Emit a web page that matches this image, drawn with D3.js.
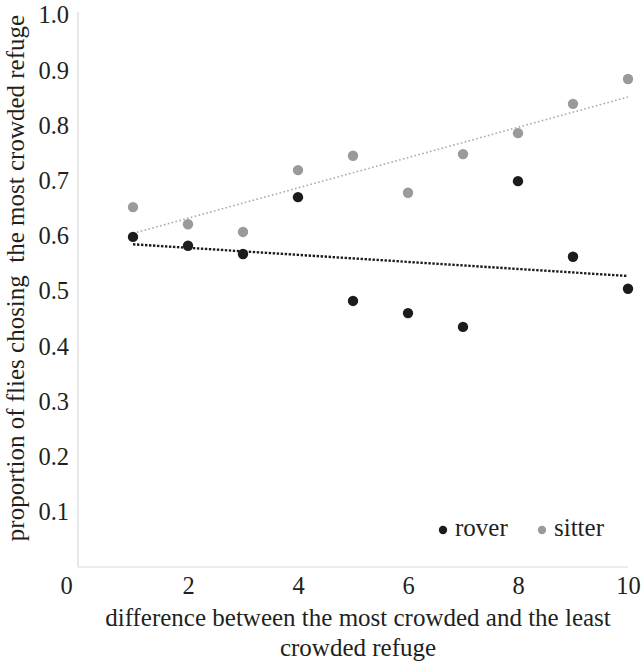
<!DOCTYPE html>
<html><head><meta charset="utf-8">
<script src="https://cdn.jsdelivr.net/npm/d3@7"></script>
<style>body{margin:0;background:#fff}svg{display:block}</style>
</head><body><svg id="c" width="641" height="661"></svg>
<script>
const xValues = [1,2,3,4,5,6,7,8,9,10];
const rover = [0.598,0.582,0.567,0.670,0.482,0.460,0.435,0.699,0.562,0.504];
const sitter = [0.652,0.621,0.607,0.719,0.745,0.678,0.748,0.786,0.839,0.884];
const xTicks = [0,2,4,6,8,10];
const yTicks = [0.1,0.2,0.3,0.4,0.5,0.6,0.7,0.8,0.9,1.0];
const seriesNames = ["rover","sitter"];
const seriesColors = ["#1c1c1c","#9a9a9a"];
const FONT = "'Liberation Serif','Times New Roman',serif";
const TXT = "#231f20";

const svg = d3.select("#c");
const x = d3.scaleLinear().domain([0,10]).range([78,628]);
const y = d3.scaleLinear().domain([0,1]).range([567,15]);

// axes
const xa = svg.append("g").attr("transform","translate(0,567)")
  .call(d3.axisBottom(x).tickValues(xTicks).tickSize(0).tickPadding(10).tickFormat(d3.format("d")));
xa.attr("font-family",null).attr("font-size",null);
xa.select(".domain").attr("stroke","#d9d9d9").attr("stroke-width",1.2).attr("d","M78,0H628");
xa.selectAll("text").style("font-family",FONT).style("font-size","24.5px").style("fill",TXT)
  .attr("dx",d=>d===0?-12:0);
const ya = svg.append("g").attr("transform","translate(78,0)")
  .call(d3.axisLeft(y).tickValues(yTicks).tickSize(0).tickPadding(9).tickFormat(d3.format(".1f")));
ya.attr("font-family",null).attr("font-size",null);
ya.select(".domain").attr("stroke","#d9d9d9").attr("stroke-width",1.2).attr("d","M0,12V567");
ya.selectAll("text").style("font-family",FONT).style("font-size","24.5px").style("fill",TXT);

// trend lines (least squares from data)
function fit(ys){
  const mx=d3.mean(xValues), my=d3.mean(ys);
  const b=d3.sum(xValues,(v,i)=>(v-mx)*(ys[i]-my))/d3.sum(xValues,v=>(v-mx)*(v-mx));
  const a=my-b*mx;
  return [[1,a+b],[10,a+10*b]];
}
const line=d3.line().x(d=>x(d[0])).y(d=>y(d[1]));
svg.append("path").attr("d",line(fit(sitter))).attr("fill","none").attr("stroke","#aaaaaa")
  .attr("stroke-width",1.6).attr("stroke-dasharray","1.6,2.4");
svg.append("path").attr("d",line(fit(rover))).attr("fill","none").attr("stroke","#1c1c1c")
  .attr("stroke-width",2.4).attr("stroke-dasharray","2.4,1.6");

// points
[rover,sitter].forEach((s,k)=>{
  svg.append("g").selectAll("circle").data(s).join("circle")
    .attr("cx",(d,i)=>x(xValues[i])).attr("cy",d=>y(d)).attr("r",5.2).attr("fill",seriesColors[k]);
});

// legend
const lg = svg.append("g");
const lx=[443,542];
seriesNames.forEach((n,k)=>{
  lg.append("circle").attr("cx",lx[k]).attr("cy",530).attr("r",4.2).attr("fill",seriesColors[k]);
  lg.append("text").attr("x",lx[k]+12).attr("y",536).style("font-family",FONT).style("font-size","25px")
    .style("fill",TXT).text(n);
});

// axis titles
function title(sel){ return sel.style("font-family",FONT).style("font-size","25px").style("fill",TXT)
  .attr("text-anchor","middle"); }
title(svg.append("text")).attr("x",358).attr("y",626).text("difference between the most crowded and the least");
title(svg.append("text")).attr("x",358).attr("y",656).text("crowded refuge");
title(svg.append("text")).attr("transform","translate(24,278) rotate(-90)").style("white-space","pre")
  .text("proportion of flies chosing  the most crowded refuge");
</script></body></html>
